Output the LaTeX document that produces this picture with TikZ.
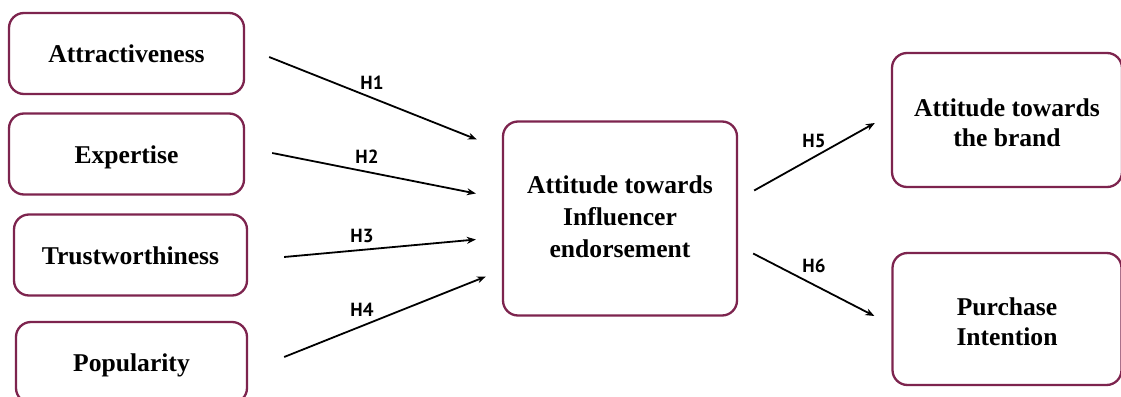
\documentclass[tikz,border=0pt]{standalone}
\usepackage{fontspec}
\setmainfont{Liberation Serif}
\newfontfamily\labfont{PT Sans}
\usetikzlibrary{arrows.meta,calc}
\definecolor{boxc}{RGB}{125,36,78}
\begin{document}
\begin{tikzpicture}[x=1pt,y=-1pt,
  box/.style={draw=boxc,line width=2.3pt,rounded corners=15pt,align=center,
    font=\fontsize{25.6}{30}\selectfont\bfseries,inner sep=0pt},
  onebox/.style={box,text height=20pt,text depth=2pt},
  hyp/.style={-{Stealth[length=9pt,width=7pt]},line width=1.8pt,black},
  hlab/.style={font=\labfont\fontsize{19}{22}\selectfont\bfseries}]
\clip (0,0) rectangle (1121,396);
\fill[white] (0,0) rectangle (1121,396);
\node[onebox,minimum width=235pt,minimum height=81pt] (attr) at (126.5,53.5) {Attractiveness};
\node[onebox,minimum width=235pt,minimum height=81pt] (exp) at (126.5,154) {Expertise};
\node[onebox,minimum width=233pt,minimum height=81pt] (trust) at (130.5,255) {Trustworthiness};
\node[onebox,minimum width=231pt,minimum height=81pt] (pop) at (131.5,362.5) {Popularity};
\node[box,minimum width=234pt,minimum height=194pt,font=\fontsize{25.6}{32}\selectfont\bfseries] (att) at (620,218.5)
  {Attitude towards\\Influencer\\endorsement\rule[-4pt]{0pt}{4pt}};
\node[box,minimum width=230pt,minimum height=134pt] (brand) at (1007,120)
  {\rule{0pt}{24pt}Attitude towards\\the brand};
\node[box,minimum width=229pt,minimum height=132pt] (pi) at (1007,319)
  {\rule{0pt}{24pt}Purchase\\Intention};
% connector end points
\coordinate (s1) at ($(attr.east)+(24,3.5)$);
\coordinate (e1) at ($(att.west)+(-25,-79)$);
\coordinate (s2) at ($(exp.east)+(27,-1)$);
\coordinate (e2) at ($(att.west)+(-26,-25)$);
\coordinate (s3) at ($(trust.east)+(36,2)$);
\coordinate (e3) at ($(att.west)+(-26,21)$);
\coordinate (s4) at ($(pop.east)+(36,-5.5)$);
\coordinate (e4) at ($(att.west)+(-16,58)$);
\coordinate (s5) at ($(att.east)+(16,-28)$);
\coordinate (e5) at ($(brand.west)+(-16,3)$);
\coordinate (s6) at ($(att.east)+(15,35)$);
\coordinate (e6) at ($(pi.west)+(-17,-3)$);
\draw[hyp] (s1) -- (e1);
\draw[hyp] (s2) -- (e2);
\draw[hyp] (s3) -- (e3);
\draw[hyp] (s4) -- (e4);
\draw[hyp] (s5) -- (e5);
\draw[hyp] (s6) -- (e6);
\node[hlab] (h1) at (372,82.5) {H1};
\node[hlab] (h2) at (367,156.5) {H2};
\node[hlab] (h3) at (362,236) {H3};
\node[hlab] (h4) at (362,310) {H4};
\node[hlab] (h5) at (814,141) {H5};
\node[hlab] (h6) at (814,266) {H6};
\end{tikzpicture}
\end{document}
